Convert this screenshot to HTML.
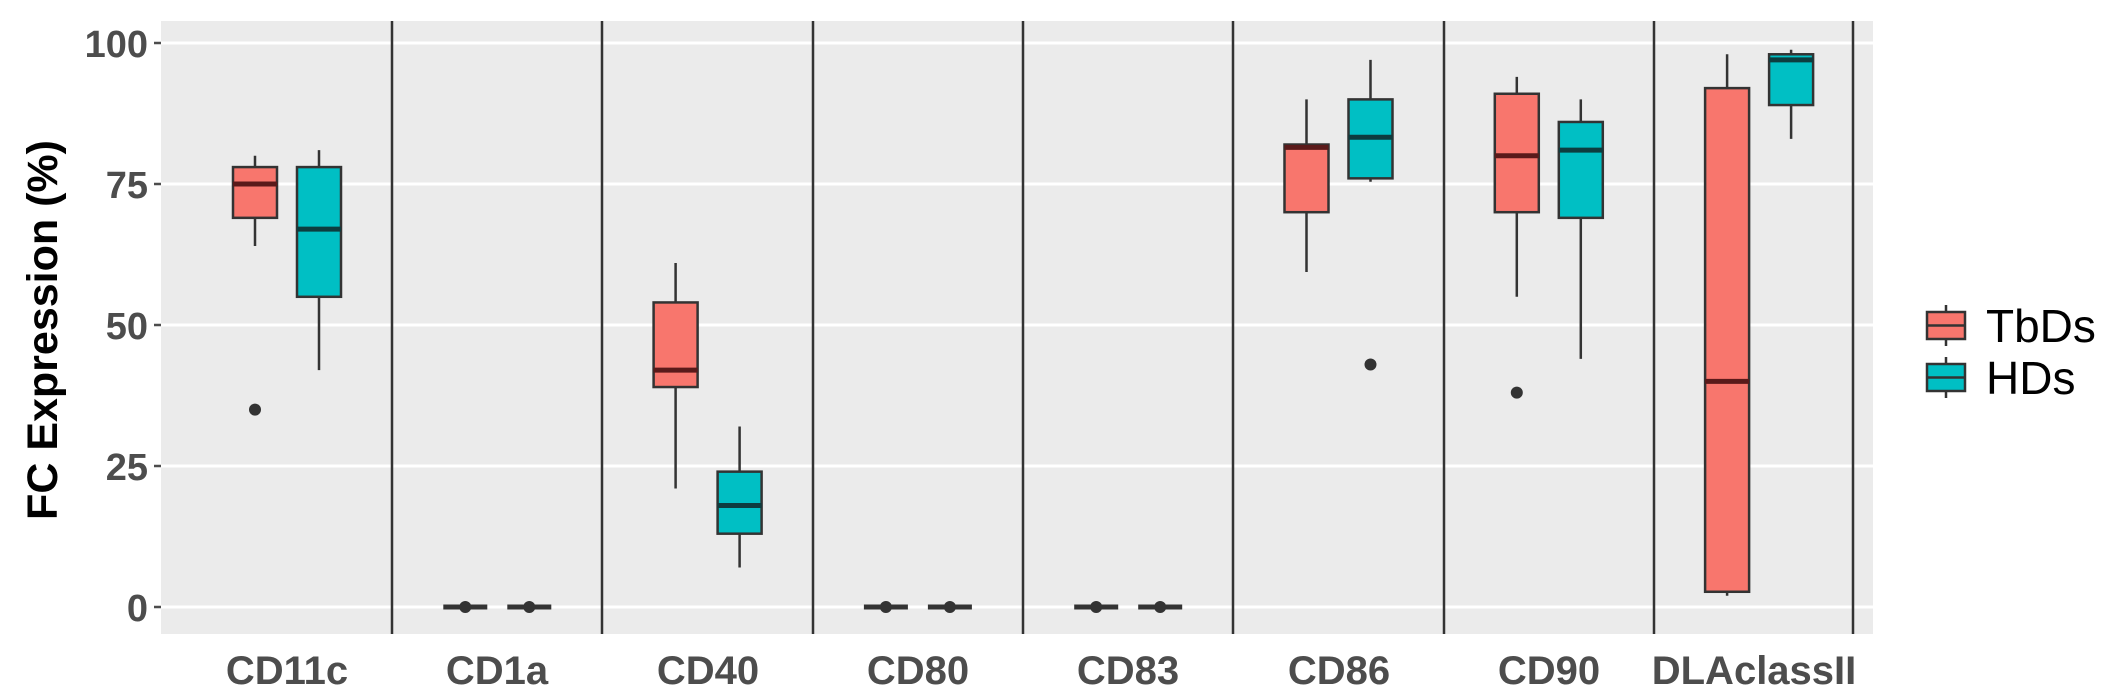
<!DOCTYPE html>
<html><head><meta charset="utf-8"><style>
html,body{margin:0;padding:0;background:#fff;}
svg{display:block;}
text{font-family:"Liberation Sans",sans-serif;}
</style></head><body>
<svg width="2120" height="696" viewBox="0 0 2120 696" xmlns="http://www.w3.org/2000/svg">
<rect x="161" y="21" width="1712" height="613" fill="#EBEBEB"/>
<g stroke="#fff" stroke-width="3">
<line x1="161" x2="1873" y1="43" y2="43"/>
<line x1="161" x2="1873" y1="184" y2="184"/>
<line x1="161" x2="1873" y1="325" y2="325"/>
<line x1="161" x2="1873" y1="466" y2="466"/>
<line x1="161" x2="1873" y1="607" y2="607"/>
</g>
<g stroke="#333" stroke-width="2.5">
<line x1="392" x2="392" y1="21" y2="634"/>
<line x1="602" x2="602" y1="21" y2="634"/>
<line x1="813" x2="813" y1="21" y2="634"/>
<line x1="1023" x2="1023" y1="21" y2="634"/>
<line x1="1233" x2="1233" y1="21" y2="634"/>
<line x1="1444" x2="1444" y1="21" y2="634"/>
<line x1="1654" x2="1654" y1="21" y2="634"/>
<line x1="1853" x2="1853" y1="21" y2="634"/>
</g>
<g id="boxes" stroke="#333" stroke-width="2.5"></g>
<g font-weight="bold" font-size="38" fill="#4D4D4D" text-anchor="end">
<text x="148" y="57">100</text>
<text x="148" y="198">75</text>
<text x="148" y="339">50</text>
<text x="148" y="480">25</text>
<text x="148" y="621">0</text>
</g>
<g stroke="#4D4D4D" stroke-width="2.5">
<line x1="154" x2="161" y1="43" y2="43"/><line x1="154" x2="161" y1="184" y2="184"/>
<line x1="154" x2="161" y1="325" y2="325"/><line x1="154" x2="161" y1="466" y2="466"/>
<line x1="154" x2="161" y1="607" y2="607"/>
</g>
<g font-weight="bold" font-size="40" fill="#4D4D4D" text-anchor="middle">
<text x="287" y="684">CD11c</text>
<text x="497" y="684">CD1a</text>
<text x="708" y="684">CD40</text>
<text x="918" y="684">CD80</text>
<text x="1128" y="684">CD83</text>
<text x="1339" y="684">CD86</text>
<text x="1549" y="684">CD90</text>
<text x="1754" y="684">DLAclassII</text>
</g>
<text transform="translate(57,330) rotate(-90)" font-weight="bold" font-size="43" fill="#000" text-anchor="middle">FC Expression (%)</text>
<g stroke="#333" stroke-width="2.5">
<line x1="1946" x2="1946" y1="305" y2="346"/>
<rect x="1927" y="312" width="38" height="27" fill="#F8766D"/>
<line x1="1927" x2="1965" y1="325.5" y2="325.5"/>
<line x1="1946" x2="1946" y1="357" y2="398"/>
<rect x="1927" y="364" width="38" height="27" fill="#00BFC4"/>
<line x1="1927" x2="1965" y1="377.5" y2="377.5"/>
</g>
<text x="1986" y="342" font-size="46" fill="#000">TbDs</text>
<text x="1986" y="394" font-size="46" fill="#000">HDs</text>
</svg>
<script>
const Y=v=>607-v*5.64;
const data=[
[[64,69,75,78,80,[35]],[42,55,67,78,81,[]]],
[[0,0,0,0,0,[]],[0,0,0,0,0,[]]],
[[21,39,42,54,61,[]],[7,13,18,24,32,[]]],
[[0,0,0,0,0,[]],[0,0,0,0,0,[]]],
[[0,0,0,0,0,[]],[0,0,0,0,0,[]]],
[[59.4,70,81.5,82,90,[]],[75.4,76,83.3,90,97,[43]]],
[[55,70,80,91,94,[38]],[44,69,81,86,90,[]]],
[[2,2.7,40,92,98,[]],[83,89,97,98,98.8,[]]]];
const cols=["#F8766D","#00BFC4"],med=["#5a1a1a","#0d3d3f"];
let s="";
data.forEach((g,i)=>{const c=287+210.3*i;g.forEach((d,j)=>{const x=c+(j?32:-32),w=44;
if(d[4]===0){s+=`<line x1="${x-w/2}" x2="${x+w/2}" y1="607" y2="607" stroke="#333" stroke-width="5"/><circle cx="${x}" cy="607" r="6" fill="#333" stroke="none"/>`;return;}
s+=`<line x1="${x}" x2="${x}" y1="${Y(d[0])}" y2="${Y(d[4])}"/>`;
s+=`<rect x="${x-w/2}" y="${Y(d[3])}" width="${w}" height="${Y(d[1])-Y(d[3])}" fill="${cols[j]}"/>`;
s+=`<line x1="${x-w/2}" x2="${x+w/2}" y1="${Y(d[2])}" y2="${Y(d[2])}" stroke="${med[j]}" stroke-width="5"/>`;
d[5].forEach(o=>s+=`<circle cx="${x}" cy="${Y(o)}" r="6" fill="#333" stroke="none"/>`);});});
document.getElementById("boxes").innerHTML=s;
</script>
</body></html>
